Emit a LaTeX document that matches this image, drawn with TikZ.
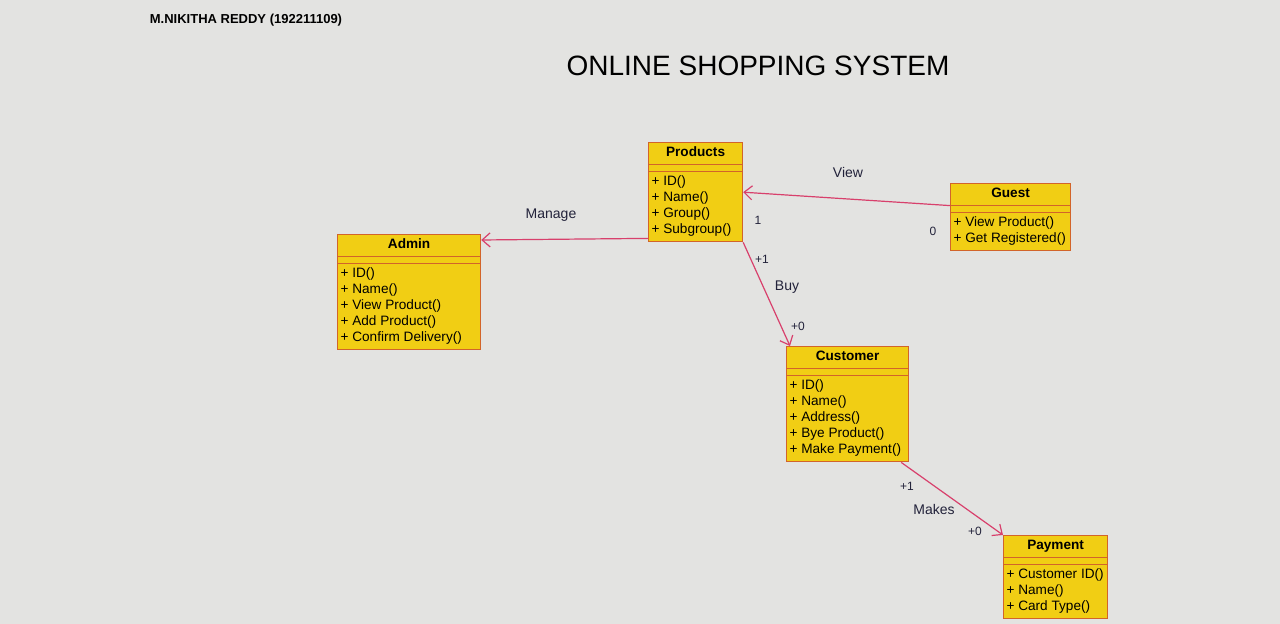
\documentclass[tikz,border=0pt]{standalone}
\usepackage{fontspec}
\setmainfont{Liberation Sans}
\usetikzlibrary{shapes.multipart,arrows.meta}
\definecolor{screen}{HTML}{E3E3E1}
\definecolor{classfill}{HTML}{F1CE14}
\definecolor{classedge}{HTML}{D2642A}
\definecolor{assoc}{HTML}{D8406C}
\definecolor{labelink}{HTML}{22223A}
\newcommand{\classops}[1]{\begin{tabular}{@{}l@{}}#1\end{tabular}}
\newcommand{\classgap}{\rule{0pt}{0.6pt}}

\begin{document}
\begin{tikzpicture}[x=0.5pt,y=-0.5pt,
    umlclass/.style={rectangle split, rectangle split parts=3,
      rectangle split part align={center,left,left},
      draw=classedge, fill=classfill, line width=0.6pt,
      anchor=north west, inner xsep=1.5pt, inner ysep=1.2pt,
      font=\fontsize{6.8}{8}\selectfont},
    assoclabel/.style={text=labelink, font=\fontsize{7}{8.5}\selectfont},
    mult/.style={text=labelink, font=\fontsize{6}{7}\selectfont},
    assocline/.style={draw=assoc, line width=0.6pt,
      -{Straight Barb[length=4pt,width=7pt]}}]
  \fill[screen] (0,0) rectangle (1280,624);
  \useasboundingbox (0,0) rectangle (1280,624);

  \node[font=\bfseries\fontsize{6.5}{8}\selectfont] (author) at (246,20) {M.NIKITHA REDDY (192211109)};
  \node[font=\fontsize{14}{16}\selectfont] (title) at (758,66) {ONLINE SHOPPING SYSTEM};

  \node[umlclass, minimum width=47pt] (products) at (648,142)
    {\textbf{Products}\strut\nodepart{second}\classgap\nodepart{third}\classops{+ ID()\\+ Name()\\+ Group()\\+ Subgroup()}};
  \node[umlclass, minimum width=60pt] (guest) at (950,183)
    {\textbf{Guest}\strut\nodepart{second}\classgap\nodepart{third}\classops{+ View Product()\\+ Get Registered()}};
  \node[umlclass, minimum width=71.5pt] (admin) at (337,234)
    {\textbf{Admin}\strut\nodepart{second}\classgap\nodepart{third}\classops{+ ID()\\+ Name()\\+ View Product()\\+ Add Product()\\+ Confirm Delivery()}};
  \node[umlclass, minimum width=61pt] (customer) at (786,346)
    {\textbf{Customer}\strut\nodepart{second}\classgap\nodepart{third}\classops{+ ID()\\+ Name()\\+ Address()\\+ Bye Product()\\+ Make Payment()}};
  \node[umlclass, minimum width=52pt] (payment) at (1003,535)
    {\textbf{Payment}\strut\nodepart{second}\classgap\nodepart{third}\classops{+ Customer ID()\\+ Name()\\+ Card Type()}};

  \draw[assocline] ([yshift=2pt]products.south west) -- ([yshift=-3pt]admin.north east);
  \draw[assocline] (guest.text split west) -- (products.east);
  \draw[assocline] (products.south east) -- ([xshift=2pt]customer.north west);
  \draw[assocline] ([xshift=-4pt]customer.south east) -- (payment.north west);

  \node[assoclabel] (manage) at (551,215) {Manage};
  \node[assoclabel] (view) at (848,173) {View};
  \node[assoclabel] (buy) at (787,287) {Buy};
  \node[assoclabel] (makes) at (934,509) {Makes};
  \node[mult] (viewone) at (758,220) {1};
  \node[mult] (viewzero) at (933,231) {0};
  \node[mult] (buyone) at (762,259) {+1};
  \node[mult] (buyzero) at (798,326) {+0};
  \node[mult] (makesone) at (907,486) {+1};
  \node[mult] (makeszero) at (975,531) {+0};
\end{tikzpicture}
\end{document}
